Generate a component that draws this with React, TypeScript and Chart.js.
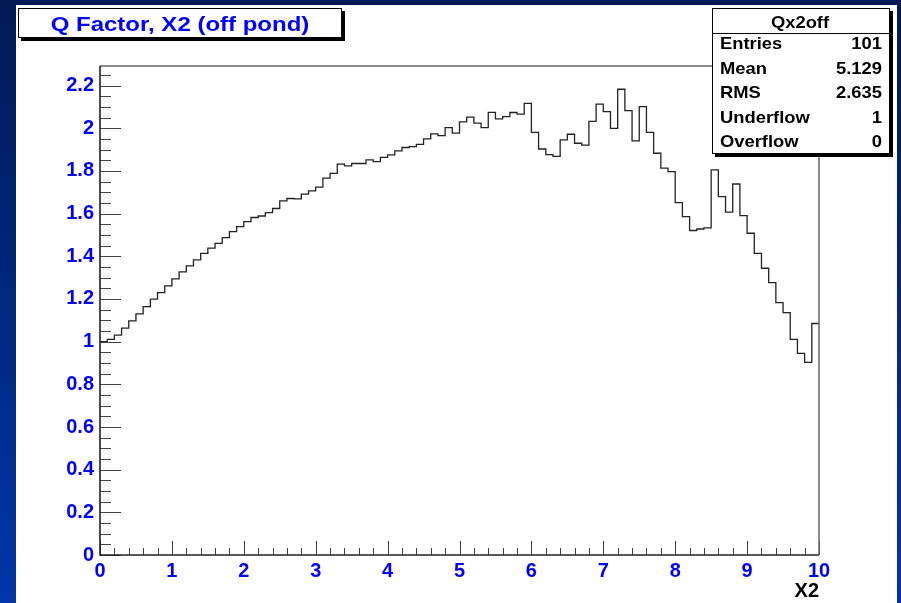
import React, { useEffect, useRef } from 'react';
import { Chart, registerables } from 'chart.js';

Chart.register(...registerables);

// ---- data ----
const X_MIN = 0;
const X_MAX = 10;
const Y_MAX = 2.292;
const binValues = [
  1.000, 1.011, 1.031, 1.063, 1.097, 1.130, 1.164, 1.199, 1.230, 1.261,
  1.294, 1.327, 1.355, 1.383, 1.414, 1.438, 1.461, 1.488, 1.516, 1.539,
  1.563, 1.582, 1.589, 1.605, 1.624, 1.660, 1.671, 1.669, 1.691, 1.707,
  1.724, 1.766, 1.789, 1.832, 1.824, 1.835, 1.835, 1.852, 1.844, 1.864,
  1.875, 1.894, 1.910, 1.914, 1.925, 1.950, 1.974, 1.966, 2.003, 1.977,
  2.030, 2.052, 2.024, 2.003, 2.075, 2.044, 2.055, 2.074, 2.066, 2.117,
  1.981, 1.903, 1.877, 1.868, 1.946, 1.972, 1.930, 1.921, 2.032, 2.113,
  2.078, 2.000, 2.183, 2.083, 1.941, 2.102, 1.981, 1.883, 1.813, 1.797,
  1.652, 1.586, 1.521, 1.528, 1.533, 1.805, 1.680, 1.607, 1.739, 1.591,
  1.508, 1.414, 1.344, 1.277, 1.183, 1.136, 1.011, 0.945, 0.903, 1.085,
];
const xTitle = 'X2';
const chartTitle = 'Q Factor, X2 (off pond)';
const statsName = 'Qx2off';
const statsLabels = ['Entries', 'Mean', 'RMS', 'Underflow', 'Overflow'];
const statsValues = ['101', '5.129', '2.635', '1', '0'];

const FONT = "'Liberation Sans', Arial, Helvetica, sans-serif";

function drawText(ctx: CanvasRenderingContext2D, text: string, x: number, y: number,
  align: 'left' | 'right' | 'center', size: number, color: string, sx: number) {
  ctx.save();
  ctx.font = `bold ${size}px ${FONT}`;
  ctx.fillStyle = color;
  ctx.textBaseline = 'alphabetic';
  ctx.textAlign = align;
  ctx.translate(x, y);
  ctx.scale(sx, 1);
  ctx.fillText(text, 0, 0);
  ctx.restore();
}

function shadowBox(ctx: CanvasRenderingContext2D, x1: number, y1: number, x2: number, y2: number) {
  ctx.save();
  ctx.fillStyle = '#000';
  ctx.fillRect(x1 + 3, y1 + 3, x2 - x1, y2 - y1);
  ctx.fillStyle = '#fff';
  ctx.fillRect(x1, y1, x2 - x1, y2 - y1);
  ctx.strokeStyle = '#000';
  ctx.lineWidth = 1;
  ctx.strokeRect(x1 + 0.5, y1 + 0.5, x2 - x1 - 1, y2 - y1 - 1);
  ctx.restore();
}

const rootDecor = {
  id: 'rootDecor',
  beforeDraw(chart: any) {
    const { ctx, width, height } = chart;
    ctx.save();
    const g = ctx.createLinearGradient(0, 0, 0, height);
    g.addColorStop(0, '#001a55');
    g.addColorStop(1, '#0036a8');
    ctx.fillStyle = g;
    ctx.fillRect(0, 0, width, height);
    ctx.fillStyle = '#ffffff';
    ctx.fillRect(16, 5, 881, height - 5);
    ctx.restore();
  },
  afterDatasetsDraw(chart: any) {
    const { ctx, chartArea } = chart;
    const { left, right, top, bottom } = chartArea;
    const xs = chart.scales.x;
    const ys = chart.scales.y;
    ctx.save();
    // ticks
    ctx.strokeStyle = '#444';
    ctx.lineWidth = 1;
    ctx.beginPath();
    for (let i = 0; i <= 45; i++) {
      const v = i * 0.05;
      if (v > Y_MAX) break;
      const y = Math.round(ys.getPixelForValue(v)) + 0.5;
      const len = i % 4 === 0 ? 21 : 11;
      ctx.moveTo(left, y);
      ctx.lineTo(left + len, y);
    }
    for (let i = 0; i <= 50; i++) {
      const v = X_MIN + i * 0.2;
      const x = Math.round(xs.getPixelForValue(v)) + 0.5;
      const len = i % 5 === 0 ? 14 : 7;
      ctx.moveTo(x, bottom);
      ctx.lineTo(x, bottom - len);
    }
    ctx.stroke();
    // frame
    ctx.strokeStyle = '#666';
    ctx.lineWidth = 1.5;
    ctx.beginPath();
    ctx.moveTo(left, top);
    ctx.lineTo(right, top);
    ctx.lineTo(right, bottom);
    ctx.stroke();
    ctx.strokeStyle = '#222';
    ctx.lineWidth = 1.6;
    ctx.beginPath();
    ctx.moveTo(left, top);
    ctx.lineTo(left, bottom);
    ctx.lineTo(right, bottom);
    ctx.stroke();
    ctx.restore();
  },
  afterDraw(chart: any) {
    const { ctx } = chart;
    // title box
    shadowBox(ctx, 18, 8, 342, 38);
    drawText(ctx, chartTitle, 180, 31, 'center', 20, '#0000ff', 1.2);
    // stats box
    shadowBox(ctx, 712, 8, 890, 154);
    ctx.save();
    ctx.strokeStyle = '#000';
    ctx.lineWidth = 1;
    ctx.beginPath();
    ctx.moveTo(712, 33.5);
    ctx.lineTo(890, 33.5);
    ctx.stroke();
    ctx.restore();
    drawText(ctx, statsName, 800, 28, 'center', 17, '#000', 1.08);
    statsLabels.forEach((lab, i) => {
      const y = 49 + i * 24.5;
      drawText(ctx, lab, 720, y, 'left', 17, '#000', 1.08);
      drawText(ctx, statsValues[i], 882, y, 'right', 17, '#000', 1.08);
    });
  },
};

export default function App() {
  const ref = useRef<HTMLCanvasElement>(null);
  useEffect(() => {
    if (!ref.current) return;
    const n = binValues.length;
    const w = (X_MAX - X_MIN) / n;
    const pts = binValues.map((v, i) => ({ x: X_MIN + i * w, y: v }));
    pts.push({ x: X_MAX, y: binValues[n - 1] });
    const tickFont = { family: FONT, size: 20, weight: 'bold' as const };
    const chart = new Chart(ref.current, {
      type: 'line',
      data: {
        datasets: [{
          data: pts,
          stepped: true,
          borderColor: '#222',
          borderWidth: 1.3,
          pointRadius: 0,
          fill: false,
        }],
      },
      options: {
        responsive: false,
        animation: false,
        events: [],
        layout: { padding: { left: 8, right: 82, top: 66, bottom: 0 } },
        plugins: { legend: { display: false }, tooltip: { enabled: false } },
        scales: {
          x: {
            type: 'linear',
            min: X_MIN,
            max: X_MAX,
            grid: { display: false, drawTicks: false },
            border: { display: false },
            ticks: { stepSize: 1, color: '#0000ff', font: tickFont, padding: 4, maxRotation: 0, autoSkip: false },
            title: { display: true, text: xTitle, align: 'end', color: '#000', font: tickFont, padding: 0 },
            afterFit: (s: any) => { s.height = 48; },
          },
          y: {
            type: 'linear',
            min: 0,
            max: Y_MAX,
            grid: { display: false, drawTicks: false },
            border: { display: false },
            ticks: {
              stepSize: 0.2,
              includeBounds: false,
              color: '#0000ff',
              font: tickFont,
              padding: 6,
              callback: (v: any) => String(parseFloat(Number(v).toFixed(1))),
            },
            afterFit: (s: any) => { s.width = 92; },
          },
        },
      },
      plugins: [rootDecor],
    });
    return () => chart.destroy();
  }, []);
  return (
    <div style={{ position: 'absolute', left: 0, top: 0, width: 901, height: 603 }}>
      <canvas ref={ref} width={901} height={603} style={{ display: 'block' }} />
    </div>
  );
}
